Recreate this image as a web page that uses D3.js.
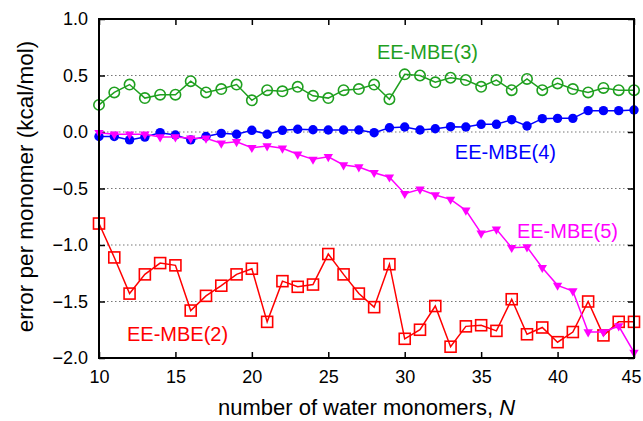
<!DOCTYPE html>
<html>
<head>
<meta charset="utf-8">
<script src="https://cdn.jsdelivr.net/npm/d3@7"></script>
<style>
  html, body { margin: 0; padding: 0; background: #fff; }
  svg { display: block; font-family: "Liberation Sans", Arial, Helvetica, sans-serif; }
</style>
</head>
<body>
<svg id="chart" width="643" height="421"></svg>
<script>
// ---- data ----
const N = d3.range(10, 46);
const mbe2 = [-0.81, -1.11, -1.43, -1.26, -1.16, -1.18, -1.58, -1.45, -1.36, -1.26,
              -1.21, -1.68, -1.32, -1.37, -1.35, -1.08, -1.26, -1.43, -1.55, -1.17,
              -1.83, -1.75, -1.54, -1.90, -1.72, -1.71, -1.76, -1.48, -1.79, -1.73,
              -1.86, -1.77, -1.50, -1.80, -1.68, -1.68];
const mbe3 = [0.24, 0.35, 0.42, 0.30, 0.33, 0.33, 0.45, 0.35, 0.38, 0.42,
              0.28, 0.37, 0.36, 0.40, 0.32, 0.30, 0.37, 0.38, 0.42, 0.29,
              0.51, 0.50, 0.44, 0.48, 0.46, 0.40, 0.46, 0.37, 0.47, 0.37,
              0.43, 0.38, 0.35, 0.39, 0.37, 0.37];
const mbe4 = [-0.04, -0.04, -0.07, -0.045, -0.006, -0.027, -0.07, -0.04, -0.012, -0.02,
              0.015, -0.02, 0.015, 0.024, 0.02, 0.018, 0.018, 0.018, -0.006, 0.038,
              0.044, 0.018, 0.029, 0.047, 0.044, 0.068, 0.068, 0.109, 0.053, 0.118,
              0.121, 0.121, 0.189, 0.189, 0.189, 0.195];
const mbe5 = [-0.006, -0.02, -0.02, -0.02, -0.044, -0.044, -0.056, -0.056, -0.10, -0.086,
              -0.139, -0.124, -0.144, -0.197, -0.242, -0.219, -0.292, -0.31, -0.36, -0.40,
              -0.546, -0.507, -0.558, -0.596, -0.693, -0.896, -0.861, -1.024, -1.018, -1.201,
              -1.357, -1.407, -1.77, -1.77, -1.717, -1.95];
const xTicks = [10, 15, 20, 25, 30, 35, 40, 45];
const yTicks = [1.0, 0.5, 0.0, -0.5, -1.0, -1.5, -2.0];
const gridValues = [0.5, 0.0, -0.5, -1.0, -1.5];
const seriesNames = ["EE-MBE(2)", "EE-MBE(3)", "EE-MBE(4)", "EE-MBE(5)"];
const xTitle = "number of water monomers, ";
const xTitleItalic = "N";
const yTitle = "error per monomer (kcal/mol)";

// ---- layout ----
const W = 643, H = 421;
const margin = {left: 99, right: 9, top: 19, bottom: 63};
const svg = d3.select("#chart");
const x = d3.scaleLinear().domain([10, 45]).range([margin.left, W - margin.right]);
const y = d3.scaleLinear().domain([-2.0, 1.0]).range([H - margin.bottom, margin.top]);

const fmt = v => (v < 0 ? "\u2212" : "") + Math.abs(v).toFixed(1);

// grid
svg.append("g").selectAll("line").data(gridValues).join("line")
  .attr("x1", x(10)).attr("x2", x(45))
  .attr("y1", d => y(d)).attr("y2", d => y(d))
  .attr("stroke", "#777").attr("stroke-width", 1.2)
  .attr("stroke-dasharray", "1.5,2.5");

// axes (inward ticks)
const tickLen = 6;
const axB = svg.append("g").attr("transform", `translate(0,${y(-2)})`)
  .call(d3.axisBottom(x).tickValues(xTicks).tickSize(-tickLen).tickPadding(12).tickFormat(d3.format("d")));
const axT = svg.append("g").attr("transform", `translate(0,${y(1)})`)
  .call(d3.axisTop(x).tickValues(xTicks).tickSize(-tickLen).tickFormat(""));
const axL = svg.append("g").attr("transform", `translate(${x(10)},0)`)
  .call(d3.axisLeft(y).tickValues(yTicks).tickSize(-tickLen).tickPadding(11).tickFormat(fmt));
const axR = svg.append("g").attr("transform", `translate(${x(45)},0)`)
  .call(d3.axisRight(y).tickValues(yTicks).tickSize(-tickLen).tickFormat(""));
[axB, axT, axL, axR].forEach(g => {
  g.select(".domain").remove();
  g.selectAll(".tick line").attr("stroke", "#000").attr("stroke-width", 1.5);
  g.selectAll("text").attr("fill", "#000").style("font-size", "18px")
    .style("font-family", '"Liberation Sans", Arial, sans-serif');
});
axB.selectAll("text").attr("dy", "0.71em");
// keep the last x label inside the window
axB.selectAll(".tick text").filter(d => d === 45).attr("dx", -3);

// series
const lineGen = vals => d3.line().x((d, i) => x(N[i])).y(d => y(d))(vals);
const colors = {m2: "#ff0000", m3: "#1fa01f", m4: "#0000ff", m5: "#ff00ff"};

const plot = svg.append("g");
// MBE(2): open squares
plot.append("path").attr("d", lineGen(mbe2)).attr("fill", "none")
  .attr("stroke", colors.m2).attr("stroke-width", 1.5);
plot.append("g").selectAll("rect").data(mbe2).join("rect")
  .attr("x", (d, i) => x(N[i]) - 5.5).attr("y", d => y(d) - 5.5)
  .attr("width", 11).attr("height", 11)
  .attr("fill", "none").attr("stroke", colors.m2).attr("stroke-width", 1.6);
// MBE(3): open circles
plot.append("path").attr("d", lineGen(mbe3)).attr("fill", "none")
  .attr("stroke", colors.m3).attr("stroke-width", 1.5);
plot.append("g").selectAll("circle").data(mbe3).join("circle")
  .attr("cx", (d, i) => x(N[i])).attr("cy", d => y(d)).attr("r", 5.2)
  .attr("fill", "none").attr("stroke", colors.m3).attr("stroke-width", 1.6);
// MBE(4): filled circles
plot.append("path").attr("d", lineGen(mbe4)).attr("fill", "none")
  .attr("stroke", colors.m4).attr("stroke-width", 1.5);
plot.append("g").selectAll("circle").data(mbe4).join("circle")
  .attr("cx", (d, i) => x(N[i])).attr("cy", d => y(d)).attr("r", 4.7)
  .attr("fill", colors.m4);
// MBE(5): filled down triangles
plot.append("path").attr("d", lineGen(mbe5)).attr("fill", "none")
  .attr("stroke", colors.m5).attr("stroke-width", 1.5);
const tri = d3.symbol().type(d3.symbolTriangle).size(38);
plot.append("g").selectAll("path").data(mbe5).join("path")
  .attr("d", tri)
  .attr("transform", (d, i) => `translate(${x(N[i])},${y(d)}) rotate(180)`)
  .attr("fill", colors.m5);

// frame
svg.append("rect").attr("x", x(10)).attr("y", y(1))
  .attr("width", x(45) - x(10)).attr("height", y(-2) - y(1))
  .attr("fill", "none").attr("stroke", "#000").attr("stroke-width", 2);

// series labels (data coordinates)
const labelAt = [
  {name: seriesNames[0], nx: 11.83, v: -1.85, c: colors.m2},
  {name: seriesNames[1], nx: 28.18, v: 0.646, c: colors.m3},
  {name: seriesNames[2], nx: 33.28, v: -0.239, c: colors.m4},
  {name: seriesNames[3], nx: 37.34, v: -0.938, c: colors.m5}
];
svg.append("g").selectAll("text").data(labelAt).join("text")
  .attr("x", d => x(d.nx)).attr("y", d => y(d.v))
  .attr("fill", d => d.c).style("font-size", "20px")
  .text(d => d.name);

// axis titles
const xt = svg.append("text")
  .attr("x", (x(10) + x(45)) / 2).attr("y", 415)
  .attr("text-anchor", "middle").style("font-size", "22px").attr("fill", "#000");
xt.append("tspan").text(xTitle);
xt.append("tspan").style("font-style", "italic").text(xTitleItalic);

svg.append("text")
  .attr("transform", `translate(33,${(y(1) + y(-2)) / 2 - 2}) rotate(-90)`)
  .attr("text-anchor", "middle").style("font-size", "22.5px").attr("fill", "#000")
  .text(yTitle);
</script>
</body>
</html>
